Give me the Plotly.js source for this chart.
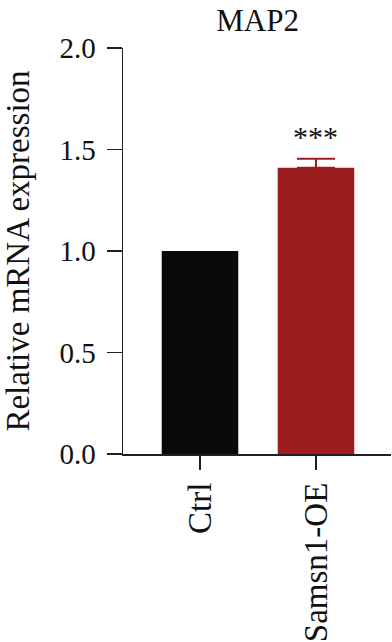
<!DOCTYPE html>
<html>
<head>
<meta charset="utf-8">
<script src="https://cdn.plot.ly/plotly-3.0.1.min.js"></script>
<style>html,body{margin:0;padding:0;background:#fff;}#chart{width:392px;height:642px;}</style>
</head>
<body>
<div id="chart"></div>
<script>
var categories = ['Ctrl', 'Samsn1-OE'];
var values = [1.0, 1.41];
var errorsUp = [0, 0.045];
var significance = ['', '***'];
var barColors = ['#0a0a0a', '#9c1d20'];
var yTickValues = [0, 0.5, 1.0, 1.5, 2.0];
var yTickLabels = ['0.0', '0.5', '1.0', '1.5', '2.0'];

var FONT = 'Liberation Serif, Times New Roman, serif';
var AXC = '#231f20';
var TXT = '#111';

var traces = categories.map(function (c, i) {
  var t = {
    type: 'bar',
    x: [c],
    y: [values[i]],
    width: 0.66,
    marker: {color: barColors[i], line: {width: 0}},
    showlegend: false,
    hoverinfo: 'skip'
  };
  if (errorsUp[i] > 0) {
    t.error_y = {type: 'data', symmetric: false, array: [errorsUp[i]], arrayminus: [0],
      color: barColors[i], thickness: 2, width: 19};
  }
  return t;
});

var annotations = categories.map(function (c, i) {
  return {
    x: c, y: values[i] + errorsUp[i], xref: 'x', yref: 'y',
    text: significance[i], showarrow: false, yanchor: 'bottom', yshift: 4,
    font: {family: FONT, size: 30, color: TXT}
  };
}).filter(function (a) { return a.text; });

var layout = {
  width: 392, height: 642,
  margin: {l: 123, r: 1, t: 48, b: 188, pad: 0},
  paper_bgcolor: '#fff', plot_bgcolor: '#fff',
  barmode: 'overlay',
  title: {text: 'MAP2', font: {family: FONT, size: 31, color: TXT}, x: 0.657, xanchor: 'center', y: 0.985, yanchor: 'top'},
  xaxis: {
    type: 'category', range: [-0.664, 1.647],
    showline: true, linecolor: AXC, linewidth: 1.5,
    ticks: 'outside', ticklen: 14, tickwidth: 1.5, tickcolor: AXC,
    tickangle: -90, tickfont: {family: FONT, size: 33, color: TXT},
    showgrid: false, zeroline: false, fixedrange: true
  },
  yaxis: {
    range: [0, 2.0], tickvals: yTickValues, ticktext: yTickLabels,
    showline: true, linecolor: AXC, linewidth: 1.5,
    ticks: 'outside', ticklen: 15, tickwidth: 1.5, tickcolor: AXC,
    ticklabelstandoff: 5,
    tickfont: {family: FONT, size: 29, color: TXT},
    showgrid: false, zeroline: false, fixedrange: true,
    title: {text: 'Relative mRNA expression', font: {family: FONT, size: 33, color: TXT}, standoff: 20}
  },
  annotations: annotations
};

Plotly.newPlot('chart', traces, layout, {displayModeBar: false, staticPlot: true});
</script>
</body>
</html>
